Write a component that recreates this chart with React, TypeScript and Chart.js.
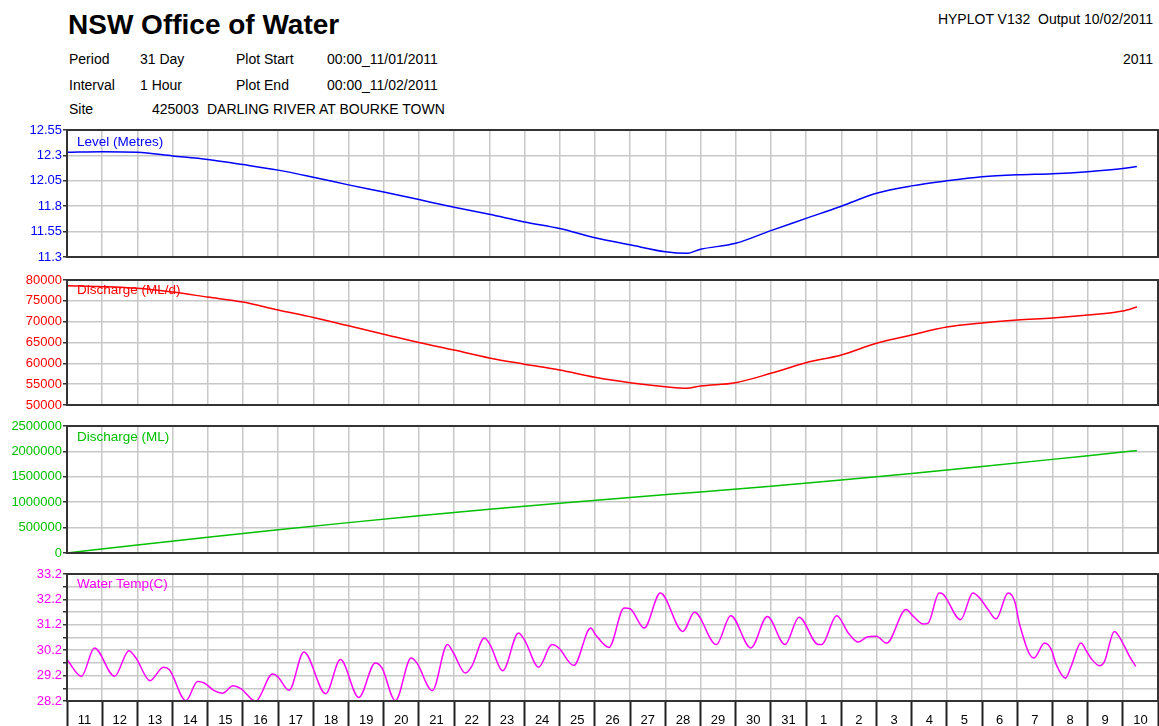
import React, { useEffect, useRef } from 'react';
import { Chart, registerables } from 'chart.js';

Chart.register(...registerables);

// ---- Data (days since 00:00 11/01/2011) ----
const dayLabels = ['11','12','13','14','15','16','17','18','19','20','21','22','23','24','25','26','27','28','29','30','31','1','2','3','4','5','6','7','8','9','10'];

const levelDays = [0,1,2,3,4,5,6,7,8,9,10,11,12,13,14,15,16,17,17.6,18,19,20,21,22,23,24,25,26,27,28,29,30,30.4];
const levelValues = [12.33,12.336,12.33,12.295,12.26,12.21,12.155,12.085,12.01,11.94,11.865,11.79,11.72,11.645,11.58,11.49,11.42,11.352,11.336,11.376,11.435,11.56,11.68,11.80,11.927,12.0,12.05,12.09,12.11,12.12,12.14,12.17,12.19];

const flowDays = [0,1,2,3,4,5,6,7,8,9,10,11,12,13,14,15,16,17,17.6,18,19,20,21,22,23,24,25,26,27,28,29,30,30.4];
const flowValues = [78600,78400,78000,77100,75900,74700,72800,71000,69000,67000,65000,63200,61300,59800,58400,56650,55350,54400,54000,54550,55350,57600,60150,62000,64800,66800,68700,69700,70400,70900,71600,72550,73500];

const volDays = [0,2,4,6,8,10,12,14,16,18,20,22,24,26,28,30,30.4];
const volValues = [0,157000,310000,458000,598000,733000,861000,980000,1094000,1203000,1313000,1435000,1565000,1702000,1843000,1987000,2015000];

const tempDays = [0,0.41,0.78,1.35,1.76,1.96,2.36,2.74,2.91,3.38,3.71,3.9,4.18,4.42,4.72,4.94,5.36,5.84,5.98,6.31,6.73,7.35,7.77,8.29,8.76,8.95,9.33,9.78,9.94,10.38,10.81,10.97,11.32,11.5,11.86,12.02,12.38,12.83,13.02,13.4,13.78,13.97,14.4,14.88,15.02,15.4,15.83,16.0,16.4,16.86,17.5,17.83,18.45,18.86,19.43,19.9,20.4,20.8,21.35,21.44,21.87,22.2,22.48,22.72,23.0,23.29,23.84,24.05,24.33,24.47,24.78,24.89,25.39,25.74,25.93,26.17,26.4,26.74,26.93,27.07,27.47,27.78,27.97,28.11,28.37,28.53,28.81,28.97,29.1,29.34,29.48,29.76,30.0,30.19,30.37];
const tempValues = [29.83,29.17,30.29,29.17,30.18,29.89,29.0,29.53,29.43,28.21,28.97,28.91,28.61,28.51,28.8,28.69,28.19,29.26,29.17,28.62,30.13,28.49,29.83,28.34,29.7,29.5,28.21,29.89,29.7,28.61,30.42,30.12,29.3,29.56,30.68,30.42,29.39,30.88,30.55,29.53,30.42,30.29,29.6,31.07,30.81,30.31,31.86,31.83,31.07,32.45,30.94,31.69,30.42,31.56,30.29,31.53,30.42,31.5,30.42,30.42,31.56,30.88,30.52,30.71,30.75,30.48,31.8,31.53,31.23,31.27,32.45,32.41,31.4,32.45,32.26,31.8,31.43,32.45,32.12,31.2,29.89,30.48,30.22,29.63,29.1,29.56,30.48,30.16,29.87,29.59,29.76,30.94,30.48,29.96,29.56];

const levelTicks = [11.3, 11.55, 11.8, 12.05, 12.3, 12.55];
const flowTicks = [50000, 55000, 60000, 65000, 70000, 75000, 80000];
const volTicks = [0, 500000, 1000000, 1500000, 2000000, 2500000];
const tempTicks = [28.2, 28.7, 29.2, 29.7, 30.2, 30.7, 31.2, 31.7, 32.2, 32.7, 33.2];
const tempLabelTicks = [28.2, 29.2, 30.2, 31.2, 32.2, 33.2];

const FONT = '"Liberation Sans", Arial, sans-serif';
const GRID = '#c8c8c8';

const frame = {
  id: 'frame',
  afterDatasetsDraw(chart: any) {
    const { ctx, chartArea: a } = chart;
    ctx.save();
    ctx.strokeStyle = '#333';
    ctx.lineWidth = 2;
    ctx.strokeRect(a.left, a.top, a.right - a.left, a.bottom - a.top);
    ctx.restore();
  },
};

type PanelProps = {
  top: number;
  height: number;
  days: number[];
  values: number[];
  color: string;
  ticks: number[];
  labelTicks?: number[];
  withDays?: boolean;
};

function Panel({ top, height, days, values, color, ticks, labelTicks, withDays }: PanelProps) {
  const ref = useRef<HTMLCanvasElement>(null);
  useEffect(() => {
    const scales: any = {
      x: {
        type: 'linear',
        position: 'bottom',
        min: 0,
        max: dayLabels.length,
        afterBuildTicks: (s: any) => {
          s.ticks = dayLabels.map((_, i) => ({ value: i })).concat([{ value: dayLabels.length }]);
        },
        ticks: { display: false, autoSkip: false },
        grid: { color: GRID, lineWidth: 1.5, drawTicks: false },
        border: { display: false },
        afterFit: (s: any) => { s.height = 0; },
      },
      y: {
        type: 'linear',
        min: ticks[0],
        max: ticks[ticks.length - 1],
        afterBuildTicks: (s: any) => { s.ticks = ticks.map((v) => ({ value: v })); },
        ticks: {
          color,
          autoSkip: false,
          padding: 1,
          font: { family: FONT, size: 13 },
          callback: (v: number) => (labelTicks && !labelTicks.includes(v) ? '' : String(v)),
        },
        grid: { color: GRID, lineWidth: 1.5, tickColor: '#333', tickLength: 4, tickWidth: 1.5 },
        border: { display: false },
        afterFit: (s: any) => { s.width = 67; },
      },
    };
    if (withDays) {
      scales.x2 = {
        type: 'category',
        position: 'bottom',
        labels: dayLabels,
        offset: true,
        grid: { offset: true, drawOnChartArea: false, tickLength: 25, tickColor: '#222', tickWidth: 2 },
        border: { display: false },
        ticks: { color: '#000', autoSkip: false, maxRotation: 0, padding: -13, font: { family: FONT, size: 13 } },
        afterFit: (s: any) => { s.height = 25; },
      };
    }
    const chart = new Chart(ref.current as HTMLCanvasElement, {
      type: 'line',
      data: {
        datasets: [
          {
            data: days.map((d, i) => ({ x: d, y: values[i] })),
            borderColor: color,
            borderWidth: 1.5,
            pointRadius: 0,
            cubicInterpolationMode: 'monotone',
            xAxisID: 'x',
            yAxisID: 'y',
          } as any,
        ],
      },
      options: {
        animation: false,
        responsive: false,
        events: [],
        layout: { padding: { top: 10, bottom: withDays ? 0 : 10, left: 0, right: 1 } },
        plugins: { legend: { display: false }, tooltip: { enabled: false }, title: { display: false } },
        scales,
      },
      plugins: [frame],
    });
    return () => chart.destroy();
  }, []);
  return (
    <canvas
      ref={ref}
      width={1159}
      height={height}
      style={{ position: 'absolute', left: 0, top, width: 1159, height, display: 'block' }}
    />
  );
}

const txt = (left: number, top: number, size = 14, extra: any = {}) => ({
  position: 'absolute' as const,
  left,
  top,
  fontFamily: FONT,
  fontSize: size,
  lineHeight: `${size}px`,
  whiteSpace: 'nowrap' as const,
  color: '#000',
  ...extra,
});

export default function App() {
  return (
    <div style={{ position: 'absolute', left: 0, top: 0, width: 1159, height: 726, background: '#fff', overflow: 'hidden' }}>
      <Panel top={120} height={147} days={levelDays} values={levelValues} color="#0000ff" ticks={levelTicks} />
      <Panel top={270} height={145} days={flowDays} values={flowValues} color="#ff0000" ticks={flowTicks} />
      <Panel top={416} height={147} days={volDays} values={volValues} color="#00c000" ticks={volTicks} />
      <Panel top={564} height={162} days={tempDays} values={tempValues} color="#ff00ff" ticks={tempTicks} labelTicks={tempLabelTicks} withDays />

      <div style={txt(68, 11, 28, { fontWeight: 'bold' })}>NSW Office of Water</div>
      <div style={txt(0, 12, 14, { left: 'auto', right: 6, textAlign: 'right' })}>HYPLOT V132&nbsp;&nbsp;Output 10/02/2011</div>
      <div style={txt(0, 52, 14, { left: 'auto', right: 6, textAlign: 'right' })}>2011</div>

      <div style={txt(69, 52)}>Period</div>
      <div style={txt(140, 52)}>31 Day</div>
      <div style={txt(236, 52)}>Plot Start</div>
      <div style={txt(327, 52)}>00:00_11/01/2011</div>

      <div style={txt(69, 78)}>Interval</div>
      <div style={txt(140, 78)}>1 Hour</div>
      <div style={txt(236, 78)}>Plot End</div>
      <div style={txt(327, 78)}>00:00_11/02/2011</div>

      <div style={txt(69, 102)}>Site</div>
      <div style={txt(152, 102)}>425003</div>
      <div style={txt(207, 102)}>DARLING RIVER AT BOURKE TOWN</div>

      <div style={txt(77, 135, 13.5, { color: '#0000ff' })}>Level (Metres)</div>
      <div style={txt(77, 283, 13.5, { color: '#ff0000' })}>Discharge (ML/d)</div>
      <div style={txt(77, 430, 13.5, { color: '#00c000' })}>Discharge (ML)</div>
      <div style={txt(77, 577, 13.5, { color: '#ff00ff' })}>Water Temp(C)</div>
    </div>
  );
}
